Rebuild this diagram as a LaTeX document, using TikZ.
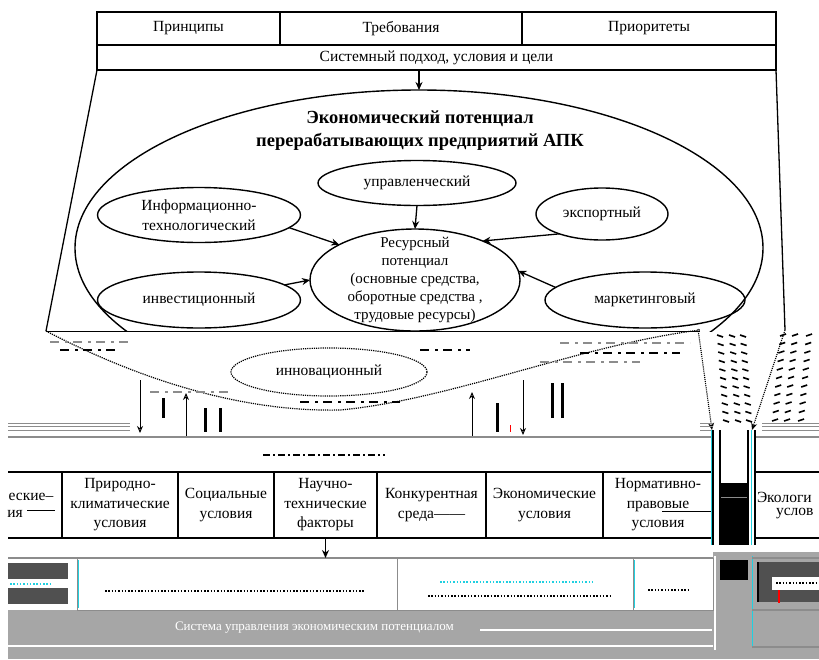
\documentclass[tikz,border=0pt]{standalone}
\usepackage{fontspec}
\setmainfont{Liberation Serif}
\usetikzlibrary{arrows.meta,shapes.geometric}
\definecolor{bandgray}{HTML}{A6A6A6}
\definecolor{deepgray}{HTML}{505050}
\definecolor{softgray}{HTML}{8C8C8C}
\definecolor{fringe}{HTML}{20D0E0}
\begin{document}
\begin{tikzpicture}[x=1pt,y=-1pt,
  every node/.style={inner sep=0pt,outer sep=0pt},
  txt/.style={font=\fontsize{15.5}{19.5}\selectfont,align=center},
  cell/.style={draw,line width=1.3pt,rectangle,anchor=north west,txt},
  oval/.style={draw,ellipse,line width=1.4pt,txt},
  arr/.style={-{Stealth[length=8pt,width=7pt]},line width=1.3pt},
  thinarr/.style={-{Stealth[length=7pt,width=6pt,open]},line width=0.9pt},
  dotarr/.style={-{Stealth[length=7pt,width=6pt,open]},line width=1.1pt,densely dotted},
  lowcell/.style={draw,line width=1.3pt,rectangle,anchor=north west,minimum height=66pt,txt},
  wcell/.style={draw=softgray,line width=1pt,rectangle,anchor=north west,minimum height=52pt},
  bar/.style={line width=3pt},
  garble/.style={line width=1.2pt,dash pattern=on 1.5pt off 1.8pt},
  smear/.style={line width=1.4pt,dash pattern=on 9pt off 6pt on 3pt off 5pt},
]
\useasboundingbox (0,0) rectangle (819,659);
% ---------- top block ----------
\node[cell,minimum width=183pt,minimum height=33pt] (pri) at (97,12) {Принципы};
\node[cell,minimum width=242pt,minimum height=33pt] (treb) at (280,12) {Требования};
\node[cell,minimum width=254pt,minimum height=33pt] (prio) at (522,12) {Приоритеты};
\node[cell,minimum width=679pt,minimum height=25pt] (sys) at (97,45) {Системный подход, условия и цели};
% ---------- funnel and big ellipse ----------
\coordinate (fl) at (46,331);
\coordinate (fr) at (785,330);
\draw[line width=1.3pt] (sys.south west) -- (fl);
\draw[line width=1.3pt] (sys.south east) -- (fr);
\node[ellipse,minimum width=688pt,minimum height=316pt] (eco) at (419,248) {};
\begin{scope}
  \clip (0,0) rectangle (819,331);
  \draw[line width=1.4pt] (eco.center) ellipse [x radius=344pt,y radius=158pt];
\end{scope}
\draw[arr] (eco.north |- sys.south) -- (eco.north);
\node[font=\bfseries\fontsize{18.5}{23}\selectfont,align=center] (title) at (420,131)
  {Экономический потенциал\\перерабатывающих предприятий АПК};
% ---------- inner ellipses ----------
\node[oval,minimum width=198pt,minimum height=45pt] (upr) at (417,183) {управленческий};
\node[oval,minimum width=203pt,minimum height=55pt] (inf) at (199,215) {Информационно-\\технологический};
\node[oval,minimum width=132pt,minimum height=52pt] (exp) at (602,214) {экспортный};
\node[oval,minimum width=210pt,minimum height=102pt] (res) at (415,280) {};
\node[txt,font=\fontsize{15}{18}\selectfont] (restxt) at (415,280)
  {Ресурсный\\потенциал\\(основные средства,\\оборотные средства ,\\трудовые ресурсы)};
\node[oval,minimum width=203pt,minimum height=56pt] (inv) at (199,300) {инвестиционный};
\node[oval,minimum width=200pt,minimum height=56pt] (mar) at (645,300) {маркетинговый};
\draw[arr] (upr.south) -- (res.north);
\draw[arr] (inf.-8) -- (res.155);
\draw[arr] (exp.205) -- (res.30);
\draw[arr] (inv.10) -- (res.180);
\draw[arr] (mar.172) -- (res.5);
% ---------- damaged middle band ----------
\draw[line width=1pt] (fl) -- (700,331);
\draw[line width=1.2pt,densely dotted] (fl) .. controls (150,385) and (250,412) .. (340,410)
  .. controls (450,400) and (580,345) .. (700,330);
\node[ellipse,draw,densely dotted,line width=1.2pt,minimum width=196pt,minimum height=48pt,txt] (inn) at (329,372) {инновационный};
\draw[smear,softgray] (50,342) -- (130,342);
\draw[smear] (60,350) -- (120,350);
\draw[smear,softgray] (150,392) -- (230,392);
\draw[smear] (420,350) -- (470,350);
\draw[smear,softgray] (560,343) -- (690,343);
\draw[smear] (580,353) -- (680,353);
\draw[smear,softgray] (540,362) -- (640,362);
\draw[smear] (300,402) -- (400,402);
% arrows crossing the band
\coordinate (d1a) at (140,380); \coordinate (d1b) at (140,433);
\coordinate (u1a) at (186,437); \coordinate (u1b) at (186,393);
\coordinate (u2a) at (472,437); \coordinate (u2b) at (472,392);
\coordinate (d2a) at (523,380); \coordinate (d2b) at (523,435);
\draw[thinarr] (d1a) -- (d1b);
\draw[thinarr] (u1a) -- (u1b);
\draw[thinarr] (u2a) -- (u2b);
\draw[thinarr] (d2a) -- (d2b);
\coordinate (r1a) at (698,329); \coordinate (r1b) at (712,430);
\coordinate (r2b) at (752,430);
\draw[dotarr] (r1a) -- (r1b);
\draw[dotarr] (fr) -- (r2b);
\foreach \i in {0,...,10}{
  \foreach \x in {717,729,740}{
    \draw[line width=1.6pt] (\x+\i*0.6,335+\i*8.5) -- ++(6,2);
  }
  \foreach \x in {780,792,806}{
    \draw[line width=1.6pt] (\x-\i*0.8,336+\i*8.5) -- ++(6,-2);
  }
}
% black bars
\draw[bar] (163,398) -- (163,418);
\draw[bar] (205,408) -- (205,432);
\draw[bar] (220,408) -- (220,432);
\draw[bar] (497,403) -- (497,432);
\draw[bar] (552,383) -- (552,418);
\draw[bar] (562,383) -- (562,418);
\draw[red,line width=0.8pt] (510,425) -- (510,432);
% horizontal rules above the factor row
\foreach \y in {423,426.5,430}{
  \draw[softgray,line width=0.8pt] (8,\y) -- (130,\y);
  \draw[softgray,line width=0.8pt] (700,\y) -- (713,\y);
  \draw[softgray,line width=0.8pt] (762,\y) -- (819,\y);
}
\draw[softgray,line width=1.6pt] (8,437) -- (713,437);
\draw[softgray,line width=1.6pt] (755,437) -- (819,437);
\draw[line width=1.6pt,dash pattern=on 7pt off 3pt on 2pt off 3pt] (263,455) -- (385,455);
% ---------- factor row ----------
\draw[line width=1.3pt] (8,472) -- (62,472) (8,538) -- (62,538);
\node[txt] (lc0a) at (31,497) {еские–};
\node[txt] (lc0b) at (15,514) {ия};
\draw[line width=1pt] (27,510) -- (55,510);
\node[lowcell,minimum width=116pt] (lc1) at (62,472) {Природно-\\климатические\\условия};
\node[lowcell,minimum width=96pt] (lc2) at (178,472) {Социальные\\условия};
\node[lowcell,minimum width=103pt] (lc3) at (274,472) {Научно-\\технические\\факторы};
\node[lowcell,minimum width=109pt] (lc4) at (377,472) {Конкурентная\\среда——};
\node[lowcell,minimum width=117pt] (lc5) at (486,472) {Экономические\\условия};
\node[lowcell,minimum width=110pt] (lc6) at (603,472) {Нормативно-\\правовые\\условия};
\draw[line width=1pt] (662,511) -- (712,511);
\fill (720,483) rectangle (748,545);
\draw[softgray,line width=0.8pt] (720,497) -- (748,497);
\draw[line width=2pt] (720,430) -- (720,545);
\draw[line width=1.3pt] (713,430) -- (713,545);
\draw[fringe,line width=0.8pt] (711,430) -- (711,545);
\draw[line width=1.3pt] (748,430) -- (748,545);
\draw[fringe,line width=0.8pt] (751,430) -- (751,545);
\draw[line width=1.3pt] (755,430) -- (755,545);
\draw[line width=1.3pt] (755,472) -- (819,472) (755,538) -- (819,538);
\node[txt,anchor=west] (lc7a) at (757,497) {Экологи};
\node[txt,anchor=west] (lc7b) at (776,514) {услов};
% ---------- directions box ----------
\fill[bandgray] (8,610) rectangle (819,659);
\fill[bandgray] (713,552) rectangle (819,610);
\draw[softgray,line width=1.2pt] (8,558) -- (713,558);
\fill[deepgray] (8,563) rectangle (68,579);
\fill[deepgray] (8,588) rectangle (68,604);
\draw[garble,fringe] (10,584) -- (52,584);
\node[wcell,minimum width=320pt] (wb1) at (77,558) {};
\node[wcell,minimum width=236pt] (wb2) at (397,558) {};
\node[wcell,minimum width=80pt] (wb3) at (633,558) {};
\draw[fringe,line width=1pt] (78,560) -- (78,608);
\draw[fringe,line width=1pt] (634,560) -- (634,608);
\draw[garble] (105,591) -- (365,591);
\draw[garble,fringe] (440,582) -- (595,582);
\draw[garble] (428,596) -- (612,596);
\draw[garble] (648,590) -- (688,590);
\draw[arr] (lc3.south) -- (lc3.south |- wb1.north);
% ---------- control system band ----------
\node[font=\fontsize{13}{14}\selectfont,text=white,anchor=west] (ctrl) at (175,628)
  {Система управления экономическим потенциалом};
\draw[white,line width=1.2pt] (480,630) -- (712,630);
\draw[white,line width=1.6pt] (8,646) -- (713,646);
\draw[white,line width=1.2pt] (715,556) -- (715,650);
% right remnants
\fill (720,560) rectangle (748,580);
\draw[fringe,line width=1pt] (752,556) -- (752,648);
\draw[softgray,line width=1.2pt] (752,558) -- (819,558) (752,610) -- (819,610) (752,647) -- (819,647);
\fill[deepgray] (758,562) rectangle (819,602);
\draw[line width=1.2pt] (758,562) -- (758,602);
\fill[white] (772,577) rectangle (819,590);
\draw[garble] (776,583) -- (816,583);
\draw[red,line width=1.5pt] (779,590) -- (779,603);
\end{tikzpicture}
\end{document}
